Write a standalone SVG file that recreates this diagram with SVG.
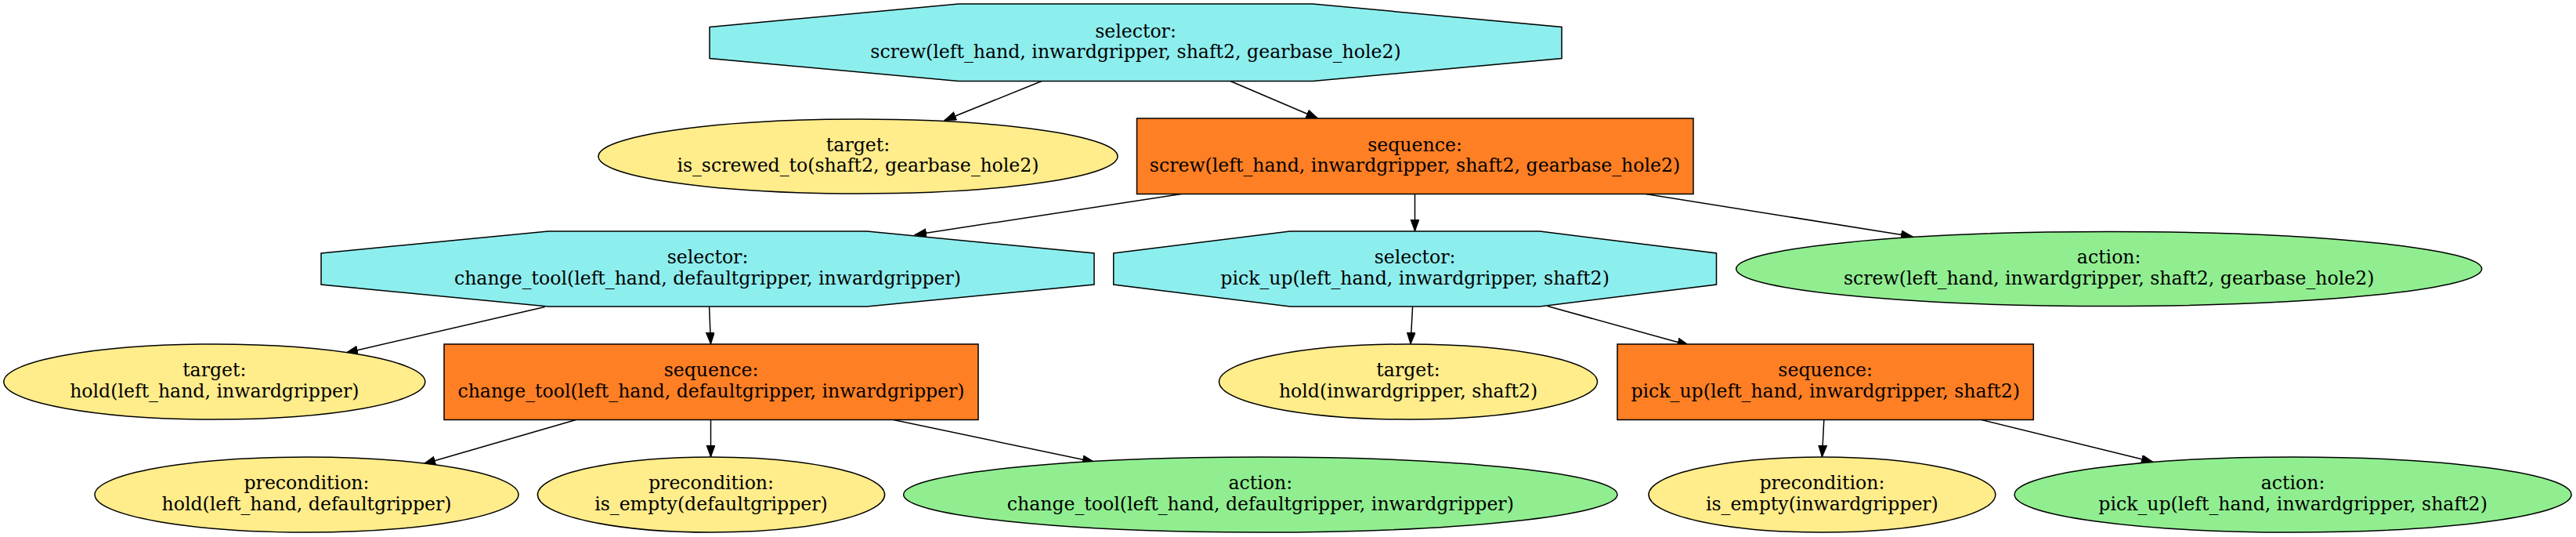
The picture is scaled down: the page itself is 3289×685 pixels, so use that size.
<svg xmlns="http://www.w3.org/2000/svg" width="3289" height="685" viewBox="0 0 3289 685">
<style>
.n{stroke:#000;stroke-width:1.5}
.sel{fill:#8DEEEE}
.seq{fill:#FF7F24}
.tgt{fill:#FFEC8B}
.act{fill:#90EE90}
text{font-family:"DejaVu Serif","Liberation Serif",serif;font-size:23.6px;fill:#000;text-anchor:middle}
.e{fill:none;stroke:#000;stroke-width:1.5;marker-end:url(#ah)}
</style>
<defs>
<marker id="ah" markerUnits="userSpaceOnUse" markerWidth="16" markerHeight="12" refX="15" refY="5.5" orient="auto">
<path d="M0,0 L15,5.5 L0,11 Z" fill="#000" stroke="#000" stroke-width="1"/>
</marker>
</defs>
<rect width="3289" height="685" fill="#fff"/>
<g id="edges">
<path class="e" d="M1330,103.5 L1206,153.5"/>
<path class="e" d="M1571,103.5 L1682.5,151"/>
<path class="e" d="M1508,247.5 L1168,299.5"/>
<path class="e" d="M1806.5,247.5 L1806.5,295"/>
<path class="e" d="M2101.5,247.5 L2442,301.7"/>
<path class="e" d="M695.7,391.5 L442,450"/>
<path class="e" d="M905.6,391.5 L907.5,439"/>
<path class="e" d="M1803.6,391.5 L1801,439"/>
<path class="e" d="M1975.8,390.5 L2156.5,440.5"/>
<path class="e" d="M735.4,535.5 L541,591.7"/>
<path class="e" d="M907.5,535.5 L907.5,583"/>
<path class="e" d="M1140.6,535.5 L1396.9,589.3"/>
<path class="e" d="M2328.8,535.5 L2326.4,583"/>
<path class="e" d="M2530,535.5 L2749,589.3"/>
</g>
<g id="sel_screw">
<polygon class="n sel" points="906,34.4 1224,5 1676,5 1994,34.4 1994,74.6 1676,103.5 1224,103.5 906,74.6"/>
<text x="1450" y="47.5">selector:</text>
<text x="1450" y="74.2">screw(left_hand, inwardgripper, shaft2, gearbase_hole2)</text>
</g>
<g id="target_screwed">
<ellipse class="n tgt" cx="1095.5" cy="199.5" rx="331.5" ry="47.5"/>
<text x="1095.5" y="192.7">target:</text>
<text x="1095.5" y="219.4">is_screwed_to(shaft2, gearbase_hole2)</text>
</g>
<g id="seq_screw">
<rect class="n seq" x="1451.5" y="151" width="710.5" height="96.5"/>
<text x="1806.5" y="192.7">sequence:</text>
<text x="1806.5" y="219.4">screw(left_hand, inwardgripper, shaft2, gearbase_hole2)</text>
</g>
<g id="sel_change_tool">
<polygon class="n sel" points="410,323 700,295 1107,295 1397,323 1397,363 1107,391 700,391 410,363"/>
<text x="903.5" y="336.2">selector:</text>
<text x="903.5" y="362.9">change_tool(left_hand, defaultgripper, inwardgripper)</text>
</g>
<g id="sel_pick_up">
<polygon class="n sel" points="1421.7,323 1647,295 1966,295 2191.5,323 2191.5,363 1966,391 1647,391 1421.7,363"/>
<text x="1806.6" y="336.2">selector:</text>
<text x="1806.6" y="362.9">pick_up(left_hand, inwardgripper, shaft2)</text>
</g>
<g id="action_screw">
<ellipse class="n act" cx="2692.7" cy="343" rx="476" ry="47.5"/>
<text x="2692.7" y="336.2">action:</text>
<text x="2692.7" y="362.9">screw(left_hand, inwardgripper, shaft2, gearbase_hole2)</text>
</g>
<g id="target_hold_lh">
<ellipse class="n tgt" cx="273.8" cy="487" rx="269" ry="48"/>
<text x="273.8" y="480.2">target:</text>
<text x="273.8" y="506.9">hold(left_hand, inwardgripper)</text>
</g>
<g id="seq_change_tool">
<rect class="n seq" x="567" y="439" width="682" height="96.5"/>
<text x="908" y="480.2">sequence:</text>
<text x="908" y="506.9">change_tool(left_hand, defaultgripper, inwardgripper)</text>
</g>
<g id="target_hold_ig">
<ellipse class="n tgt" cx="1798" cy="487" rx="241.5" ry="48"/>
<text x="1798" y="480.2">target:</text>
<text x="1798" y="506.9">hold(inwardgripper, shaft2)</text>
</g>
<g id="seq_pick_up">
<rect class="n seq" x="2065" y="439" width="531.3" height="96.5"/>
<text x="2330.7" y="480.2">sequence:</text>
<text x="2330.7" y="506.9">pick_up(left_hand, inwardgripper, shaft2)</text>
</g>
<g id="pre_hold">
<ellipse class="n tgt" cx="391.5" cy="631" rx="270.5" ry="48"/>
<text x="391.5" y="624.2">precondition:</text>
<text x="391.5" y="650.9">hold(left_hand, defaultgripper)</text>
</g>
<g id="pre_empty_dg">
<ellipse class="n tgt" cx="908" cy="631" rx="221.6" ry="48"/>
<text x="908" y="624.2">precondition:</text>
<text x="908" y="650.9">is_empty(defaultgripper)</text>
</g>
<g id="action_change_tool">
<ellipse class="n act" cx="1609.3" cy="631" rx="455.7" ry="48"/>
<text x="1609.3" y="624.2">action:</text>
<text x="1609.3" y="650.9">change_tool(left_hand, defaultgripper, inwardgripper)</text>
</g>
<g id="pre_empty_ig">
<ellipse class="n tgt" cx="2326.4" cy="631" rx="221.4" ry="48"/>
<text x="2326.4" y="624.2">precondition:</text>
<text x="2326.4" y="650.9">is_empty(inwardgripper)</text>
</g>
<g id="action_pick_up">
<ellipse class="n act" cx="2927.6" cy="631" rx="355.5" ry="48"/>
<text x="2927.6" y="624.2">action:</text>
<text x="2927.6" y="650.9">pick_up(left_hand, inwardgripper, shaft2)</text>
</g>
</svg>
